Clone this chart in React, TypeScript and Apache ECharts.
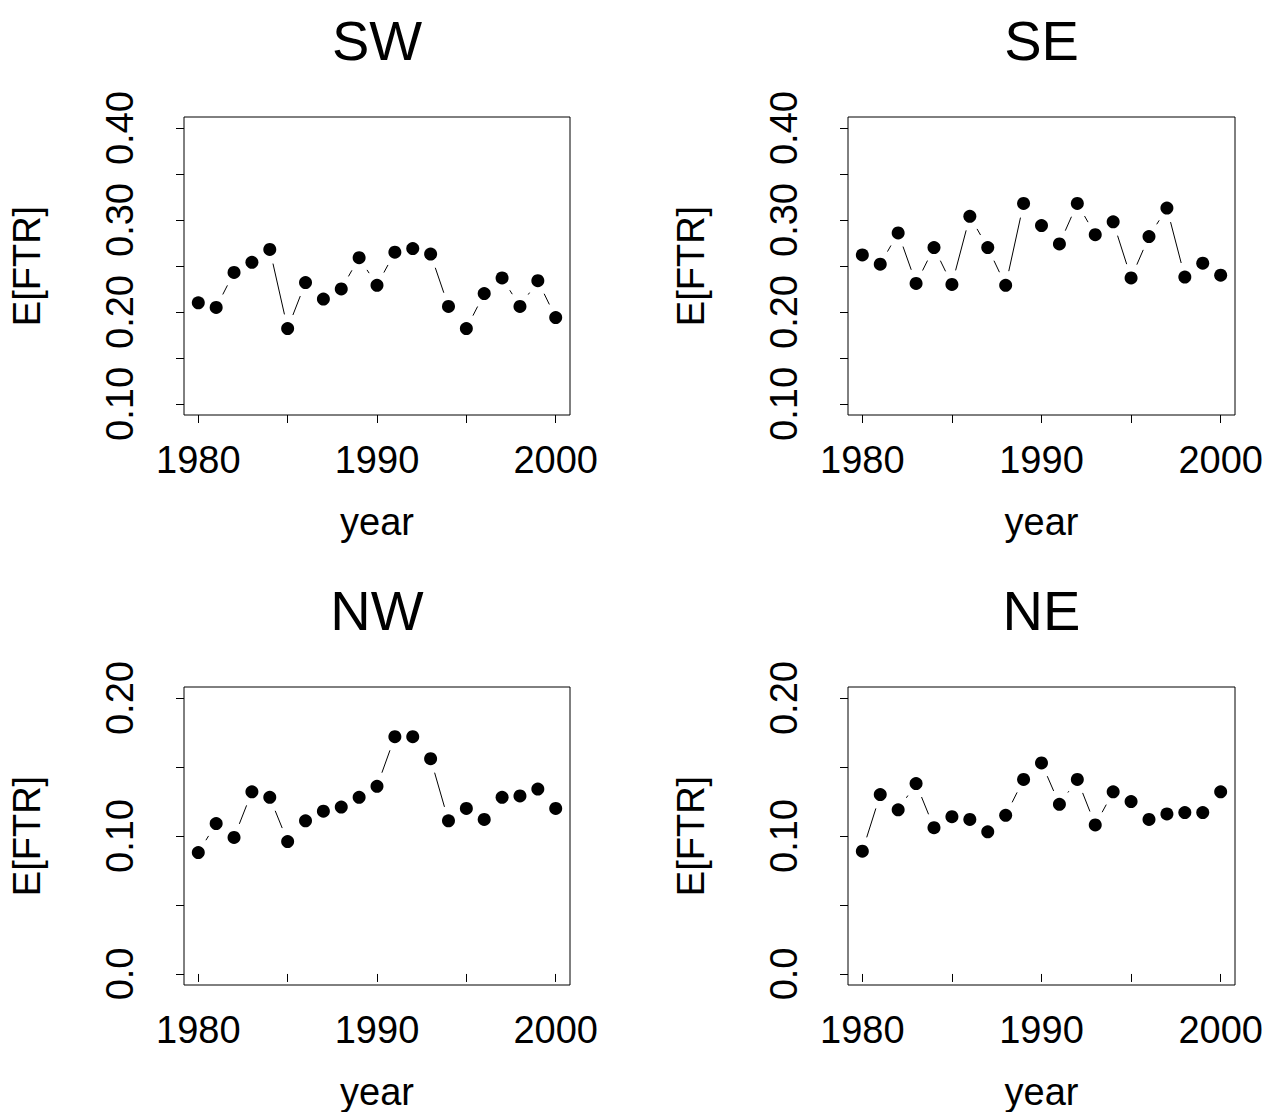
import React, { useEffect, useRef } from "react";
import * as echarts from "echarts";

// Expected first-time rate by region, 1980-2000
const years = [
  1980, 1981, 1982, 1983, 1984, 1985, 1986, 1987, 1988, 1989, 1990,
  1991, 1992, 1993, 1994, 1995, 1996, 1997, 1998, 1999, 2000,
];
const swValues = [
  0.21, 0.205, 0.243, 0.254, 0.268, 0.182, 0.232, 0.214, 0.225, 0.259, 0.229,
  0.265, 0.269, 0.263, 0.206, 0.182, 0.22, 0.237, 0.206, 0.234, 0.194,
];
const seValues = [
  0.262, 0.252, 0.286, 0.231, 0.27, 0.23, 0.304, 0.27, 0.229, 0.318, 0.294,
  0.274, 0.318, 0.284, 0.298, 0.237, 0.282, 0.313, 0.238, 0.253, 0.24,
];
const nwValues = [
  0.088, 0.109, 0.099, 0.132, 0.128, 0.096, 0.111, 0.118, 0.121, 0.128, 0.136,
  0.172, 0.172, 0.156, 0.111, 0.12, 0.112, 0.128, 0.129, 0.134, 0.12,
];
const neValues = [
  0.089, 0.13, 0.119, 0.138, 0.106, 0.114, 0.112, 0.103, 0.115, 0.141, 0.153,
  0.123, 0.141, 0.108, 0.132, 0.125, 0.112, 0.116, 0.117, 0.117, 0.132,
];

const panelTitles = ["SW", "SE", "NW", "NE"];
const xTicks = [1980, 1985, 1990, 1995, 2000];
const xTickLabels = [1980, 1990, 2000];
const yTicksTop = [0.1, 0.15, 0.2, 0.25, 0.3, 0.35, 0.4];
const yTickLabelsTop = [0.1, 0.2, 0.3, 0.4];
const yTicksBottom = [0, 0.05, 0.1, 0.15, 0.2];
const yTickLabelsBottom = [0, 0.1, 0.2];

const FONT = '"Liberation Sans", Arial, Helvetica, sans-serif';
const GAP = 14.5; // blank space left around each point on the connecting lines

type Panel = {
  title: string;
  values: number[];
  left: number;
  top: number;
  width: number;
  height: number;
  yMin: number;
  yMax: number;
  yTicks: number[];
  yLabels: number[];
  fmt: (v: number) => string;
};

const fmtTop = (v: number) => v.toFixed(2);
const fmtBottom = (v: number) => (Math.abs(v) < 1e-9 ? "0.0" : v.toFixed(2));

const panels: Panel[] = [
  { title: panelTitles[0], values: swValues, left: 184, top: 117, width: 386, height: 298, yMin: 0.088, yMax: 0.412, yTicks: yTicksTop, yLabels: yTickLabelsTop, fmt: fmtTop },
  { title: panelTitles[1], values: seValues, left: 848, top: 117, width: 387, height: 298, yMin: 0.088, yMax: 0.412, yTicks: yTicksTop, yLabels: yTickLabelsTop, fmt: fmtTop },
  { title: panelTitles[2], values: nwValues, left: 184, top: 687, width: 386, height: 298, yMin: -0.008, yMax: 0.208, yTicks: yTicksBottom, yLabels: yTickLabelsBottom, fmt: fmtBottom },
  { title: panelTitles[3], values: neValues, left: 848, top: 687, width: 387, height: 298, yMin: -0.008, yMax: 0.208, yTicks: yTicksBottom, yLabels: yTickLabelsBottom, fmt: fmtBottom },
];

function buildOption(): echarts.EChartsOption {
  const grid: any[] = [];
  const xAxis: any[] = [];
  const yAxis: any[] = [];
  const series: any[] = [];
  const title: any[] = [];

  panels.forEach((p, i) => {
    grid.push({
      left: p.left,
      top: p.top,
      width: p.width,
      height: p.height,
      show: true,
      borderColor: "#000",
      borderWidth: 1,
      backgroundColor: "transparent",
    });
    xAxis.push({
      type: "value",
      gridIndex: i,
      min: 1979.2,
      max: 2000.8,
      name: "year",
      nameLocation: "middle",
      nameGap: 88,
      nameTextStyle: { fontSize: 38, fontFamily: FONT, color: "#000", lineHeight: 38 },
      axisLine: { show: false },
      splitLine: { show: false },
      axisTick: {
        show: true,
        inside: false,
        length: 8,
        customValues: xTicks,
        lineStyle: { color: "#000", width: 1 },
      },
      axisLabel: {
        show: true,
        customValues: xTickLabels,
        margin: 26,
        fontSize: 38,
        lineHeight: 38,
        fontFamily: FONT,
        color: "#000",
        formatter: (v: number) => String(Math.round(v)),
      },
    });
    yAxis.push({
      type: "value",
      gridIndex: i,
      min: p.yMin,
      max: p.yMax,
      name: "E[FTR]",
      nameLocation: "middle",
      nameRotate: 90,
      nameGap: 138,
      nameTextStyle: { fontSize: 38, fontFamily: FONT, color: "#000", lineHeight: 38 },
      axisLine: { show: false },
      splitLine: { show: false },
      axisTick: {
        show: true,
        inside: false,
        length: 8,
        customValues: p.yTicks,
        lineStyle: { color: "#000", width: 1 },
      },
      axisLabel: {
        show: true,
        rotate: 90,
        customValues: p.yLabels,
        margin: 45,
        fontSize: 38,
        lineHeight: 38,
        fontFamily: FONT,
        color: "#000",
        formatter: p.fmt,
      },
    });

    // connecting segments, trimmed near each point
    const segs = p.values.slice(0, -1).map((v, k) => [years[k], v, years[k + 1], p.values[k + 1]]);
    series.push({
      type: "custom",
      coordinateSystem: "cartesian2d",
      xAxisIndex: i,
      yAxisIndex: i,
      encode: { x: [0, 2], y: [1, 3] },
      data: segs,
      silent: true,
      renderItem: (_params: any, api: any) => {
        const a = api.coord([api.value(0), api.value(1)]);
        const b = api.coord([api.value(2), api.value(3)]);
        const dx = b[0] - a[0];
        const dy = b[1] - a[1];
        const d = Math.hypot(dx, dy);
        if (d <= 2 * GAP) return { type: "group", children: [] };
        const f = GAP / d;
        return {
          type: "line",
          shape: { x1: a[0] + f * dx, y1: a[1] + f * dy, x2: b[0] - f * dx, y2: b[1] - f * dy },
          style: { stroke: "#000", lineWidth: 1 },
        };
      },
    });
    series.push({
      type: "scatter",
      xAxisIndex: i,
      yAxisIndex: i,
      symbol: "circle",
      symbolSize: 13,
      itemStyle: { color: "#000", opacity: 1 },
      data: years.map((y, k) => [y, p.values[k]]),
      silent: true,
    });

    title.push({
      text: p.title,
      left: p.left + p.width / 2,
      top: p.top - 105,
      textAlign: "center",
      padding: 0,
      textStyle: { fontSize: 56, fontWeight: "normal", fontFamily: FONT, color: "#000", lineHeight: 56 },
    });
  });

  return {
    animation: false,
    backgroundColor: "#fff",
    title,
    grid,
    xAxis,
    yAxis,
    series,
  };
}

export default function App() {
  const ref = useRef<HTMLDivElement>(null);
  useEffect(() => {
    if (!ref.current) return;
    const chart = echarts.init(ref.current, undefined, { renderer: "svg" });
    chart.setOption(buildOption());
    return () => chart.dispose();
  }, []);
  return (
    <div
      ref={ref}
      style={{ position: "fixed", left: 0, top: 0, width: 1267, height: 1112, background: "#fff" }}
    />
  );
}
